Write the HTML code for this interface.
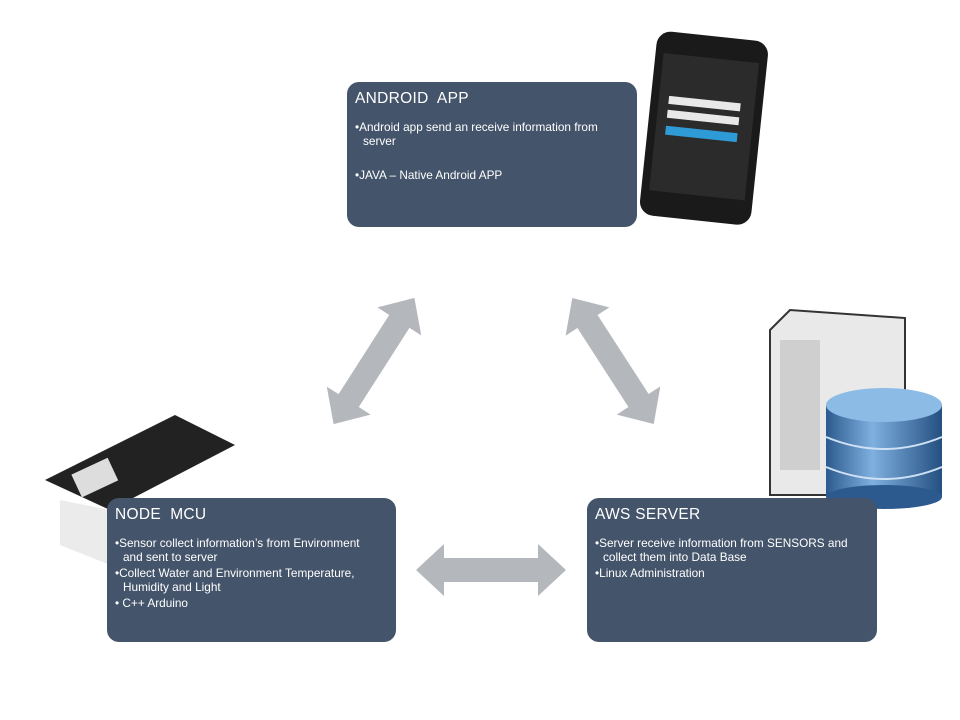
<!DOCTYPE html>
<html><head><meta charset="utf-8"><style>
body{margin:0;width:960px;height:720px;background:#fff;position:relative;overflow:hidden;font-family:"Liberation Sans",sans-serif}
.box{position:absolute;background:#44546a;border-radius:12px;color:#fff;box-sizing:border-box;padding:8px 20px 8px 8px}
.box h3{margin:0 0 12px 0;font-weight:normal;font-size:15.5px;letter-spacing:0.3px}
.box p{margin:0;font-size:11.8px;line-height:14px;padding-left:8px;text-indent:-8px}
svg{position:absolute;left:0;top:0}
</style></head><body>
<svg width="960" height="720">
<defs>
<g id="dar"><polygon points="-75,0 -47,-26 -47,-12 47,-12 47,-26 75,0 47,26 47,12 -47,12 -47,26" fill="#b4b7bc"/></g>
<linearGradient id="cyl" x1="0" x2="1"><stop offset="0" stop-color="#2c5a8e"/><stop offset=".4" stop-color="#7fb0e0"/><stop offset="1" stop-color="#245080"/></linearGradient>
</defs>
<g transform="translate(374,361) rotate(-57.4)"><use href="#dar"/></g>
<g transform="translate(613,361) rotate(57.1)"><use href="#dar"/></g>
<g transform="translate(491,570)"><use href="#dar"/></g>
<!-- phone -->
<g transform="rotate(6 707 128)">
<rect x="648" y="36" width="112" height="185" rx="14" fill="#1a1a1a"/>
<rect x="656" y="58" width="96" height="138" fill="#2b2b2b"/>
<rect x="666" y="100" width="72" height="8" fill="#e8e8e8"/>
<rect x="666" y="114" width="72" height="8" fill="#e8e8e8"/>
<rect x="666" y="130" width="72" height="9" fill="#2e9bd6"/>
</g>
<!-- server -->
<polygon points="770,330 790,310 905,318 905,495 770,495" fill="#e9e9e9" stroke="#333" stroke-width="2"/>
<rect x="780" y="340" width="40" height="130" fill="#cfcfcf"/>
<!-- db -->
<rect x="826" y="405" width="116" height="92" fill="url(#cyl)"/>
<ellipse cx="884" cy="497" rx="58" ry="12" fill="#2c5a8e"/>
<ellipse cx="884" cy="405" rx="58" ry="17" fill="#8cbbe6"/>
<path d="M826 437 q58 24 116 0 M826 467 q58 24 116 0" stroke="#cfe2f5" stroke-width="2" fill="none"/>
<!-- nodemcu -->
<polygon points="45,480 175,415 235,445 110,510" fill="#222"/>
<polygon points="60,500 110,510 110,565 60,545" fill="#ddd" opacity=".6"/>
<rect x="75" y="465" width="40" height="25" fill="#ddd" transform="rotate(-25 95 478)"/>
</svg>
<div class="box" style="left:347px;top:82px;width:290px;height:145px">
<h3>ANDROID&nbsp; APP</h3>
<p>•Android app send an receive information from server</p>
<p style="margin-top:20px">•JAVA – Native Android APP</p>
</div>
<div class="box" style="left:107px;top:498px;width:289px;height:144px">
<h3>NODE&nbsp; MCU</h3>
<p>•Sensor collect information’s from Environment and sent to server</p>
<p style="margin-top:2px">•Collect Water and Environment Temperature, Humidity and Light</p>
<p style="margin-top:2px">• C++ Arduino</p>
</div>
<div class="box" style="left:587px;top:498px;width:290px;height:144px">
<h3>AWS SERVER</h3>
<p>•Server receive information from SENSORS and collect them into Data Base</p>
<p style="margin-top:2px">•Linux Administration</p>
</div>
</body></html>
